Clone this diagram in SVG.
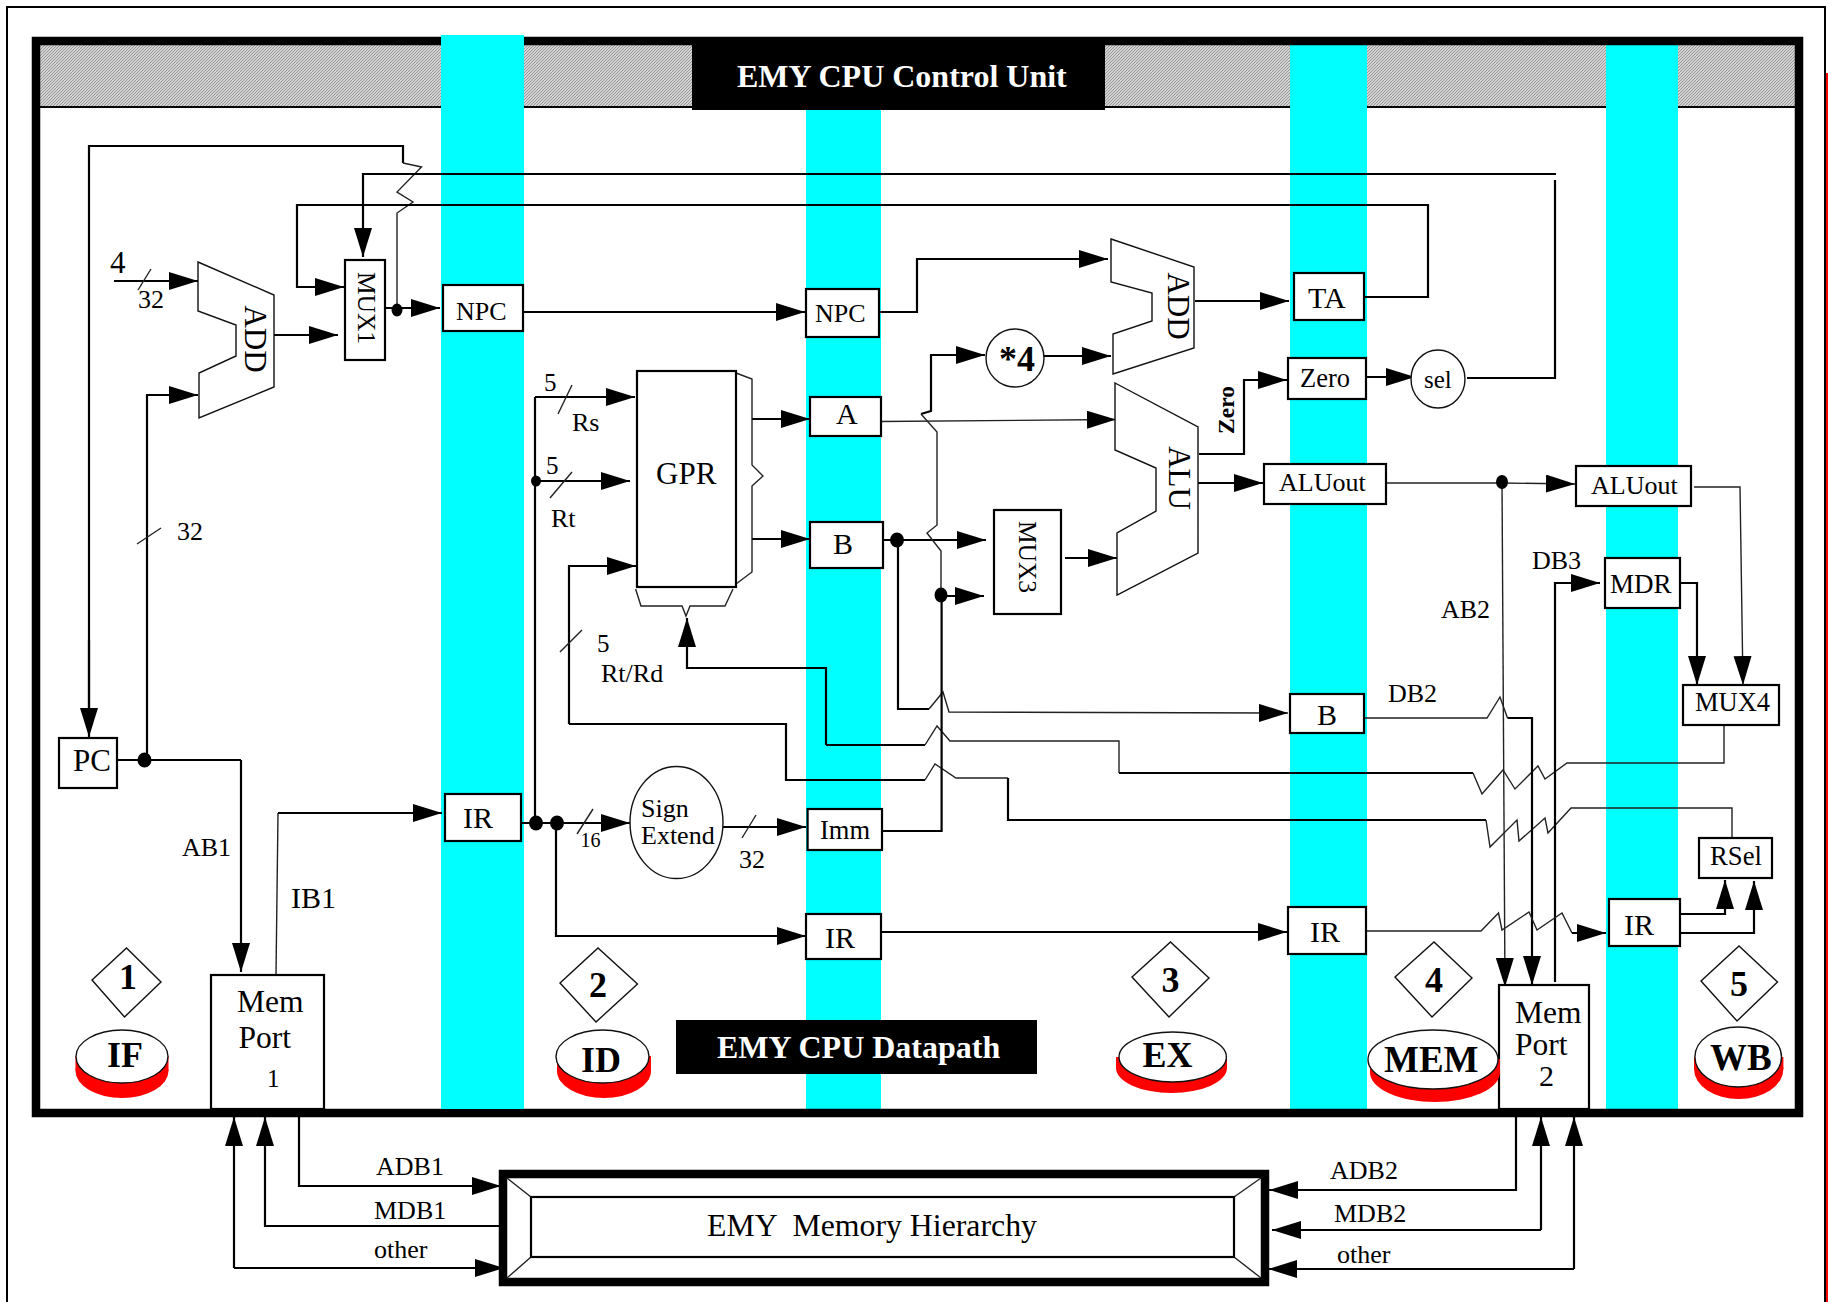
<svg xmlns="http://www.w3.org/2000/svg" width="1828" height="1302" viewBox="0 0 1828 1302">
<style>
text{font-family:"Liberation Serif","Times New Roman",serif;fill:#000;white-space:pre}
.b{font-weight:bold}
.s26{font-size:26px}.s30{font-size:30px}.s36{font-size:36px;font-weight:bold}
.ttl{font-size:32px;font-weight:bold;fill:#fff}
.w{fill:none;stroke:#000;stroke-width:2.2}
.n{fill:none;stroke:#222;stroke-width:1.4}
.a{marker-end:url(#ah)}
.box{fill:#fff;stroke:#000;stroke-width:2.2}
.shp{fill:#fff;stroke:#111;stroke-width:1.4}
.dot{fill:#000}
.red{fill:#f00}
.cy{fill:#0ff}
</style>
<defs>
<marker id="ah" markerUnits="userSpaceOnUse" markerWidth="30" markerHeight="20" refX="29" refY="9" orient="auto"><path d="M0,0L29,9L0,18z" fill="#000"/></marker>
<pattern id="hatch" patternUnits="userSpaceOnUse" width="3" height="3"><rect width="3" height="3" fill="#d2d2d2"/><path d="M-1,1L1,-1M0,3L3,0M2,4L4,2" stroke="#999" stroke-width="1"/></pattern>
</defs>
<rect width="1828" height="1302" fill="#fff"/>
<g id="page">
<path d="M7,1302V7H1825V1302" fill="none" stroke="#000" stroke-width="2"/>
<path d="M1827,73V1302" fill="none" stroke="#f00" stroke-width="2"/>
</g>
<g id="frame">
<rect x="40" y="45" width="1755" height="62" fill="url(#hatch)"/>
<path d="M40,107H1795" fill="none" stroke="#000" stroke-width="2.2"/>
<rect class="cy" x="806" y="45" width="75" height="1064"/>
<rect class="cy" x="1290" y="45" width="77" height="1064"/>
<rect class="cy" x="1606" y="45" width="72" height="1064"/>
<rect x="36" y="41" width="1763" height="1072" fill="none" stroke="#000" stroke-width="8.5"/>
<rect class="cy" x="441" y="35" width="83" height="1074"/>
</g>
<g id="memory">
<rect x="503" y="1174" width="762" height="108" fill="#fff" stroke="#000" stroke-width="8.500"/>
<path class="n" d="M507,1178L531,1197M507,1278L531,1257M1261,1178L1234,1197M1261,1278L1234,1257"/>
<rect x="531" y="1197" width="703" height="60" fill="#fff" stroke="#000" stroke-width="2.200"/>
<text x="707" y="1236" font-size="31.800">EMY  Memory Hierarchy</text>
</g>
<g id="connectors">
<path class="w" d="M89,708V146H403V163"/>
<path class="n" d="M403,163L421.500,167L397,192L413,202L397,213V310"/>
<path class="w a" d="M89,640V737"/>
<path class="w a" d="M1556,174H363V257"/>
<path class="w" d="M1555,180V378H1467"/>
<path class="w a" d="M1364,297H1428V205H297V287H344"/>
<path class="w a" d="M114,281H198"/>
<path class="n" d="M138,290L151,269"/>
<path class="w a" d="M273,335H338"/>
<path class="w a" d="M385,308H440"/>
<path class="w a" d="M523,312H805"/>
<path class="w a" d="M879,312H917V259H1108"/>
<path class="w a" d="M1195,301H1289"/>
<path class="w a" d="M147,760V395H198"/>
<path class="n" d="M137,544L161,528"/>
<path class="w" d="M118,760H241"/>
<path class="w a" d="M241,760V972"/>
<path class="n" d="M276,975L278,813"/>
<path class="w a" d="M278,813H442"/>
<path class="w a" d="M521,823H630"/>
<path class="w" d="M535,823V397"/>
<path class="w a" d="M535,397H635"/>
<path class="n" d="M558,414L572,385"/>
<path class="w a" d="M536,481H630"/>
<path class="n" d="M550,498L572,472"/>
<path class="n" d="M577,834L593,809"/>
<path class="w a" d="M569,724V566H636"/>
<path class="n" d="M560,652L582,630"/>
<path class="w" d="M569,724H786V780H925"/>
<path class="n" d="M925,780L935,764L956,778H1008"/>
<path class="w" d="M1008,778V820H1486"/>
<path class="n" d="M1486,820L1490,847L1517,820L1519,841L1545,818L1548,833L1571,808H1732V838"/>
<path class="w a" d="M826,745V668H687V618"/>
<path class="w" d="M925,745H826"/>
<path class="n" d="M925,745L937,726L950,741H1119V773"/>
<path class="w" d="M1119,773H1473"/>
<path class="n" d="M1473,773L1482,794L1503,770L1515,789L1538,766L1545,779L1567,763H1724V725"/>
<path class="w a" d="M752,419H810"/>
<path class="w a" d="M752,539H810"/>
<path class="n a" d="M881,421.500L1116,419.500"/>
<path class="w a" d="M883,540H986"/>
<path class="w" d="M898,540V709H929"/>
<path class="n a" d="M929,709L943,692L949,712L1288,713"/>
<path class="w a" d="M1039,356H1111"/>
<path class="w a" d="M921,414L931,411V355H985"/>
<path class="n" d="M921,414L937,432V525L927,533L941,551V595"/>
<path class="w" d="M882,831H941.600V595"/>
<path class="w a" d="M941,596H984"/>
<path class="w a" d="M1065,558H1117"/>
<path class="w a" d="M1199,454H1244V380H1287"/>
<path class="w a" d="M1194,483H1263"/>
<path class="w a" d="M1366,377H1415"/>
<path class="n" d="M1386,483H1502"/>
<path class="n a" d="M1502,483L1575,484"/>
<path class="n a" d="M1502,482L1505,987"/>
<path class="n a" d="M1694,487H1740L1743,685"/>
<path class="w a" d="M1680,583H1697V685"/>
<path class="w a" d="M1555,982V583H1600"/>
<path class="n" d="M1361,718H1487L1500,697L1507.500,718"/>
<path class="w a" d="M1507.500,718H1532V985"/>
<path class="w a" d="M723,827H806"/>
<path class="n" d="M742,838L756,815"/>
<path class="w a" d="M556,823V936H806"/>
<path class="w a" d="M881,932H1287"/>
<path class="n" d="M1367,931H1481L1498.500,913L1502,930L1529,912L1537,930L1562,913L1572,933"/>
<path class="w a" d="M1572,933H1606"/>
<path class="w a" d="M1680,914H1725V880"/>
<path class="w a" d="M1678,933H1754V881"/>
<path class="w a" d="M299,1117V1186H501"/>
<path class="w a" d="M500,1226H265V1117"/>
<path class="w a" d="M234,1268V1117"/>
<path class="w a" d="M234,1268H504"/>
<path class="w a" d="M1516,1117V1190H1269"/>
<path class="w a" d="M1541,1230H1272"/>
<path class="w a" d="M1541,1230V1117"/>
<path class="w a" d="M1574,1269H1268"/>
<path class="w a" d="M1574,1269V1117"/>
<ellipse class="dot" cx="397" cy="310" rx="5.500" ry="6.500"/>
<ellipse class="dot" cx="144.500" cy="760" rx="7" ry="7.500"/>
<ellipse class="dot" cx="536" cy="823" rx="7" ry="7.500"/>
<ellipse class="dot" cx="557" cy="823" rx="7" ry="7.500"/>
<ellipse class="dot" cx="536" cy="481" rx="5" ry="5.500"/>
<ellipse class="dot" cx="897" cy="540" rx="7" ry="7.500"/>
<ellipse class="dot" cx="941" cy="595" rx="6.500" ry="7.500"/>
<ellipse class="dot" cx="1502" cy="482" rx="6" ry="7"/>
</g>
<g id="labels">
<text x="110" y="273" font-size="31">4</text>
<text x="138" y="308" class="s26">32</text>
<text x="544" y="391" font-size="25">5</text>
<text x="572" y="431" class="s26">Rs</text>
<text x="546" y="474" font-size="25">5</text>
<text x="551" y="527" class="s26">Rt</text>
<text x="597" y="652" font-size="25">5</text>
<text x="601" y="682" class="s26">Rt/Rd</text>
<text x="177" y="540" class="s26">32</text>
<text x="182" y="856" class="s26">AB1</text>
<text x="291" y="908" class="s30">IB1</text>
<text x="580.500" y="847" font-size="20">16</text>
<text x="739" y="868" class="s26">32</text>
<text x="1532" y="569" class="s26">DB3</text>
<text x="1441" y="618" class="s26">AB2</text>
<text x="1388" y="702" class="s26">DB2</text>
<text x="376" y="1175" class="s26">ADB1</text>
<text x="374" y="1219" class="s26">MDB1</text>
<text x="374" y="1258" class="s26">other</text>
<text x="1330" y="1179" class="s26">ADB2</text>
<text x="1334" y="1222" class="s26">MDB2</text>
<text x="1337" y="1263" class="s26">other</text>
<text transform="translate(1234,410) rotate(-90)" text-anchor="middle" font-size="23.500" class="b">Zero</text>
</g>
<g id="nodes">
<g id="add1"><path class="shp" d="M198,262L274,295V387L199,418V373L236,356V325L198,311z"/><text transform="translate(245,339) rotate(90)" text-anchor="middle" font-size="31">ADD</text></g>
<g id="mux1"><rect class="box" x="345" y="260" width="40" height="100"/><text transform="translate(358,308) rotate(90)" text-anchor="middle" font-size="25.400">MUX1</text></g>
<g id="npc1"><rect class="box" x="443" y="285" width="80" height="46"/><text x="456" y="320" class="s26">NPC</text></g>
<g id="npc2"><rect class="box" x="806" y="289" width="73" height="48"/><text x="815" y="322" class="s26">NPC</text></g>
<g id="add2"><path class="shp" d="M1111,239L1194,267V348L1113,374V334L1152,321V293L1111,282z"/><text transform="translate(1168,306) rotate(90)" text-anchor="middle" font-size="31">ADD</text></g>
<g id="ta"><rect class="box" x="1294" y="273" width="70" height="47"/><text x="1308" y="308" class="s30">TA</text></g>
<g id="times4"><ellipse class="shp" cx="1015" cy="358" rx="29" ry="29"/><text x="999" y="371" class="s36">*4</text></g>
<g id="a"><rect class="box" x="810" y="397" width="71" height="39"/><text x="836" y="424" class="s30">A</text></g>
<g id="b1"><rect class="box" x="810" y="522" width="73" height="46"/><text x="833" y="554" class="s30">B</text></g>
<g id="gpr">
<path class="n" d="M736,373L752,379V465L763,476L752,486V572L736,584"/>
<path class="n" d="M635.600,589L641,606H682L686,616L690,606H725L733,589"/>
<rect class="box" x="637" y="371" width="99" height="216"/><text x="656" y="484" font-size="31">GPR</text></g>
<g id="alu"><path class="shp" d="M1115,383L1198,427V553L1117,595V533L1156,511V468L1115,450z"/><text transform="translate(1169,478) rotate(90)" text-anchor="middle" font-size="31">ALU</text></g>
<g id="mux3"><rect class="box" x="994" y="510" width="67" height="104"/><text transform="translate(1019,557) rotate(90)" text-anchor="middle" font-size="25.400">MUX3</text></g>
<g id="zero"><rect class="box" x="1288" y="358" width="78" height="41"/><text x="1300" y="387" font-size="26.500">Zero</text></g>
<g id="sel"><ellipse class="shp" cx="1438" cy="379" rx="27" ry="29"/><text x="1424" y="388" font-size="25">sel</text></g>
<g id="aluout1"><rect class="box" x="1264" y="464" width="122" height="40"/><text x="1279" y="491" class="s26">ALUout</text></g>
<g id="aluout2"><rect class="box" x="1576" y="466" width="115" height="40"/><text x="1591" y="494" class="s26">ALUout</text></g>
<g id="mdr"><rect class="box" x="1605" y="558" width="75" height="50"/><text x="1610" y="593" font-size="27">MDR</text></g>
<g id="mux4"><rect class="box" x="1683" y="685" width="96" height="40"/><text x="1695" y="711" font-size="26.500">MUX4</text></g>
<g id="b2"><rect class="box" x="1290" y="694" width="74" height="39"/><text x="1317" y="725" class="s30">B</text></g>
<g id="rsel"><rect class="box" x="1699" y="838" width="73" height="40"/><text x="1710" y="865" font-size="26.700">RSel</text></g>
<g id="pc"><rect class="box" x="59" y="738" width="58" height="50"/><text x="73" y="771" font-size="31">PC</text></g>
<g id="ir1"><rect class="box" x="445" y="794" width="76" height="47"/><text x="463" y="828" class="s30">IR</text></g>
<g id="ir2"><rect class="box" x="806" y="914" width="75" height="45"/><text x="825" y="948" class="s30">IR</text></g>
<g id="ir3"><rect class="box" x="1288" y="907" width="78" height="47"/><text x="1310" y="942" class="s30">IR</text></g>
<g id="ir4"><rect class="box" x="1609" y="899" width="71" height="47"/><text x="1624" y="935" class="s30">IR</text></g>
<g id="imm"><rect class="box" x="807.600" y="809" width="74.400" height="41"/><text x="820" y="839" font-size="26.500">Imm</text></g>
<g id="sign"><ellipse class="shp" cx="676.500" cy="822.500" rx="46.500" ry="56"/><text x="641" y="817" class="s26">Sign</text><text x="641" y="844" class="s26">Extend</text></g>
<g id="memport1"><rect class="box" x="211" y="975" width="113" height="134"/><text x="237" y="1012" font-size="31.500">Mem</text><text x="238.500" y="1048" font-size="31.500">Port</text><text x="267" y="1087" font-size="25">1</text></g>
<g id="memport2"><rect class="box" x="1499" y="985" width="90" height="124"/><text x="1515" y="1023" font-size="31.500">Mem</text><text x="1515" y="1055" font-size="31.500">Port</text><text x="1539" y="1086" class="s30">2</text></g>
<g id="d1"><path class="shp" d="M92,980L126.500,948L161,982L124.500,1017z"/><text x="128" y="989" text-anchor="middle" class="s36">1</text></g>
<g id="d2"><path class="shp" d="M560,983L598,948L637.500,984L596,1022z"/><text x="598" y="997" text-anchor="middle" class="s36">2</text></g>
<g id="d3"><path class="shp" d="M1132,977L1170.500,942L1209,978L1169,1017z"/><text x="1170.500" y="992" text-anchor="middle" class="s36">3</text></g>
<g id="d4"><path class="shp" d="M1395,977L1434,942L1472,978L1432,1017z"/><text x="1434" y="992" text-anchor="middle" class="s36">4</text></g>
<g id="d5"><path class="shp" d="M1701,981L1739,946L1777.500,982L1737,1021z"/><text x="1739" y="996" text-anchor="middle" class="s36">5</text></g>
<g id="if"><ellipse class="red" cx="122" cy="1071" rx="46.500" ry="27"/><rect class="red" x="75.500" y="1056" width="93" height="15"/><ellipse class="shp" cx="122" cy="1056.500" rx="46" ry="26.500"/><text x="107" y="1067" class="s36">IF</text></g>
<g id="id"><ellipse class="red" cx="604" cy="1071" rx="47" ry="27"/><rect class="red" x="557" y="1056" width="94" height="15"/><ellipse class="shp" cx="602.500" cy="1056.500" rx="46.500" ry="26.500"/><text x="581" y="1072" class="s36">ID</text></g>
<g id="ex"><ellipse class="red" cx="1171.500" cy="1068" rx="55.500" ry="25"/><rect class="red" x="1116" y="1057" width="111" height="11"/><ellipse class="shp" cx="1172.700" cy="1057" rx="53.700" ry="25"/><text x="1142.500" y="1067" class="s36">EX</text></g>
<g id="mem"><ellipse class="red" cx="1435" cy="1072.500" rx="65" ry="29.500"/><rect class="red" x="1370" y="1059" width="130" height="13"/><ellipse class="shp" cx="1433" cy="1059.500" rx="65" ry="29.500"/><text x="1384" y="1072" font-size="37" class="b">MEM</text></g>
<g id="wb"><ellipse class="red" cx="1738.700" cy="1069" rx="44.700" ry="30"/><rect class="red" x="1694" y="1057" width="89.400" height="12"/><ellipse class="shp" cx="1738.200" cy="1057" rx="43.300" ry="30"/><text x="1710" y="1070" font-size="37" class="b">WB</text></g>
<g id="control-title"><rect x="692" y="37" width="413" height="73" fill="#000"/><text x="737" y="87" class="ttl">EMY CPU Control Unit</text></g>
<g id="datapath-title"><rect x="676" y="1020" width="361" height="54" fill="#000"/><text x="717" y="1058" class="ttl">EMY CPU Datapath</text></g>
</g>
</svg>
